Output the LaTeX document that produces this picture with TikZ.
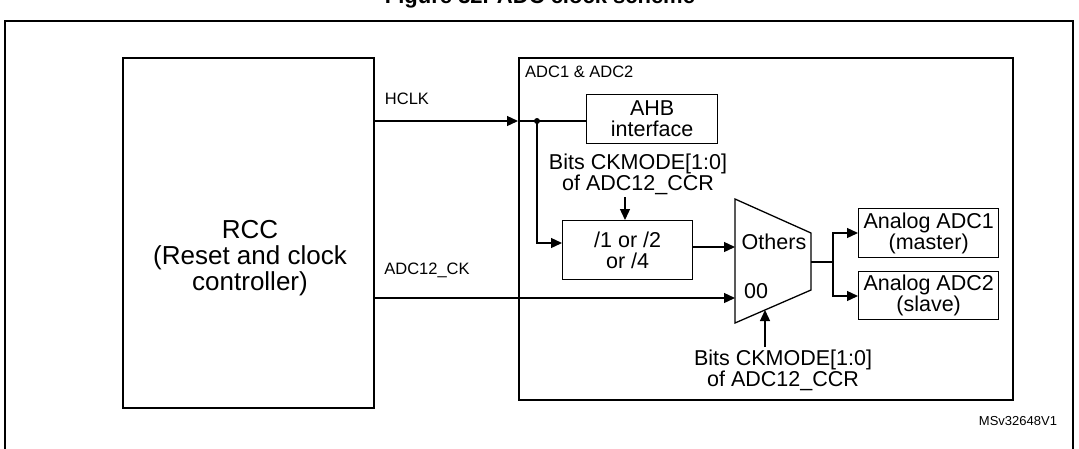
\documentclass[tikz,border=0pt]{standalone}
\usepackage{fontspec}
\setmainfont{Liberation Sans}
\usetikzlibrary{arrows.meta}
\begin{document}
\begin{tikzpicture}[x=1pt,y=-1pt,
  box/.style={draw,line width=2pt},
  thin/.style={draw,line width=1.3pt},
  arr/.style={thin,-{Triangle[length=11pt,width=10pt]}},
  lbl/.style={font=\fontsize{21.5}{21}\selectfont,inner sep=0pt,align=center},
  sml/.style={font=\fontsize{16.5}{18}\selectfont,inner sep=0pt},
  every node/.style={inner sep=0pt}]
\useasboundingbox (0,0) rectangle (1079,448);
\node[font=\bfseries\fontsize{22}{24}\selectfont] (title) at (540,-2) {Figure 32. ADC clock scheme};
\draw[line width=2pt] (5,449) -- (5,21) -- (1073,21) -- (1073,449);
\node[box,minimum width=251pt,minimum height=350pt,anchor=north west] (rcc) at (122,57) {};
\node[lbl,font=\fontsize{26}{26}\selectfont] (rcct) at (250,258) {RCC\\(Reset and clock\\controller)};
\node[box,minimum width=494pt,minimum height=342pt,anchor=north west] (adc) at (518,57) {};
\node[sml,anchor=west] (adct) at (525,72) {ADC1 \& ADC2};
\node[thin,lbl,minimum width=131pt,minimum height=49pt,anchor=north west] (ahb) at (586,94) {AHB\\interface};
\node[thin,lbl,minimum width=130pt,minimum height=59pt,anchor=north west] (div) at (562,220) {/1 or /2\\or /4};
\coordinate (m1) at (735,199); \coordinate (m2) at (811,233);
\coordinate (m3) at (811,290); \coordinate (m4) at (735,323);
\draw[thin] (m1) -- (m2) -- (m3) -- (m4) -- cycle;
\node[lbl] (oth) at (774,242) {Others};
\node[lbl] (zz) at (756,291) {00};
\node[thin,lbl,minimum width=140pt,minimum height=49pt,anchor=north west] (a1) at (858,208) {Analog ADC1\\(master)};
\node[thin,lbl,minimum width=140pt,minimum height=48pt,anchor=north west] (a2) at (858,271) {Analog ADC2\\(slave)};
\node[sml] (hclk) at (407,99) {HCLK};
\node[sml] (ck) at (427,270) {ADC12\_CK};
\node[lbl] (b1) at (638,174) {Bits CKMODE[1:0]\\of ADC12\_CCR};
\node[lbl] (b2) at (783,370) {Bits CKMODE[1:0]\\of ADC12\_CCR};
\node[font=\fontsize{13}{15}\selectfont] (ms) at (1018,421) {MSv32648V1};
\coordinate (dot) at (537,121);
\fill (dot) circle (3pt);
\draw[arr] (rcc.east |- dot) -- (adc.west |- dot);
\draw[thin] (adc.west |- dot) -- (ahb.west |- dot);
\draw[arr] (dot) |- (div.west |- 0,243);
\draw[arr] (rcc.east |- 0,298) -- (735,298);
\draw[arr] (div.east |- 0,247) -- (735,247);
\draw[arr] (625,197) -- (div.north -| 625,0);
\draw[arr] (765,347) -- (765,310);
\coordinate (br) at (833,262);
\draw[thin] (811,262) -- (br);
\draw[arr] (br) |- (a1.west |- 0,233);
\draw[arr] (br) |- (a2.west |- 0,296);
\end{tikzpicture}
\end{document}
